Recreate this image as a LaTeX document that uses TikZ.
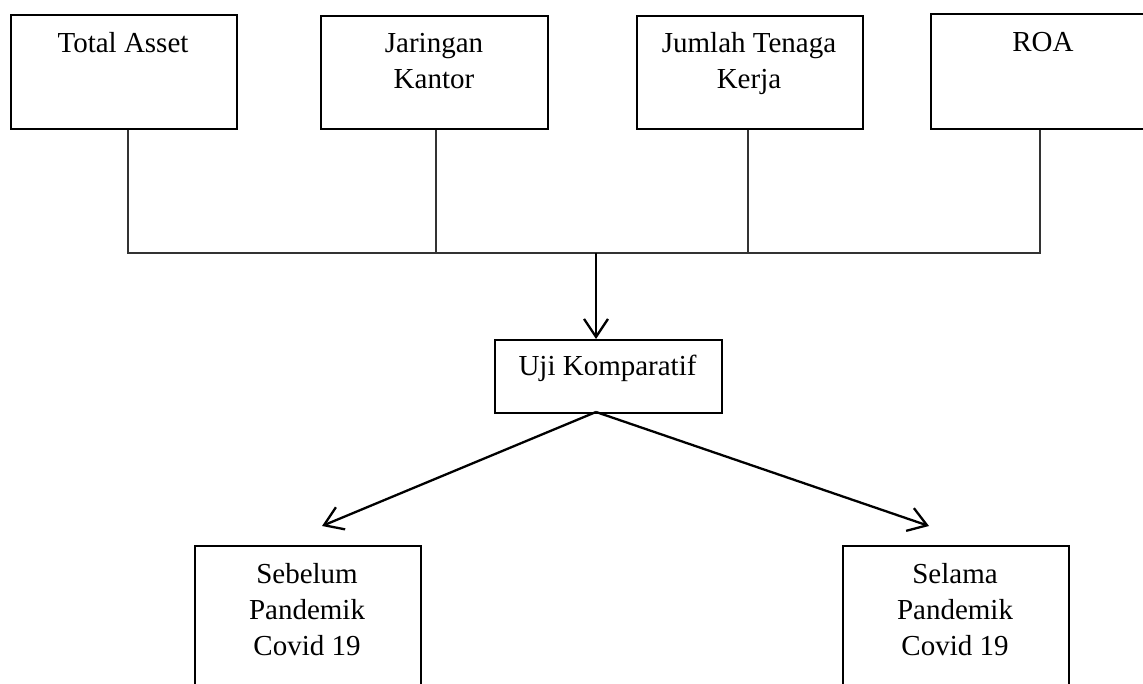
\documentclass[tikz,border=0pt]{standalone}
\usepackage{fontspec}
\setmainfont{Liberation Serif}
\usetikzlibrary{arrows.meta}
\begin{document}
\begin{tikzpicture}[x=1pt,y=-1pt,
  box/.style={draw=black,line width=2.3pt,inner sep=0pt,anchor=north west},
  txt/.style={inner sep=0pt,anchor=base,align=center,font=\fontsize{29}{36}\selectfont},
  conn/.style={draw=black!80,line width=1.4pt},
  arr/.style={draw=black,line width=2.3pt,-{Straight Barb[length=18pt,width=24pt,line width=2.3pt]}}]
\useasboundingbox (0,0) rectangle (1143,684);
\clip (0,0) rectangle (1143,684);
% boxes
\node[box,minimum width=226pt,minimum height=114pt] (ta) at (10,14) {};
\node[box,minimum width=227pt,minimum height=113pt] (jk) at (320,15) {};
\node[box,minimum width=226pt,minimum height=113pt] (jt) at (636,15) {};
\node[box,minimum width=226pt,minimum height=115pt] (roa) at (930,13) {};
\node[box,minimum width=227pt,minimum height=73pt] (uji) at (494,339) {};
\node[box,minimum width=226pt,minimum height=160pt] (seb) at (194,545) {};
\node[box,minimum width=226pt,minimum height=160pt] (sel) at (842,545) {};
% texts (anchor base = baseline of last line)
\node[txt] (ta-t) at (123,53) {Total Asset};
\node[txt] (jk-t) at (434,89) {Jaringan\\Kantor};
\node[txt] (jt-t) at (749,89) {Jumlah Tenaga\\Kerja};
\node[txt] (roa-t) at (1043,52) {ROA};
\node[txt] (uji-t) at (607.5,376) {Uji Komparatif};
\node[txt] (seb-t) at (307,655) {Sebelum\\Pandemik\\Covid 19};
\node[txt] (sel-t) at (955,655) {Selama\\Pandemik\\Covid 19};
% connectors
\coordinate (c1) at (128,253);
\coordinate (c2) at (436,253);
\coordinate (c3) at (748,253);
\coordinate (c4) at (1040,253);
\coordinate (cm) at (596,253);
\draw[conn] (ta.south -| c1) -- (c1) -- (c4) -- (roa.south -| c4);
\draw[conn] (jk.south -| c2) -- (c2);
\draw[conn] (jt.south -| c3) -- (c3);
\draw[arr] (cm) -- (uji.north -| cm);
\coordinate (ub) at (596,412);
\coordinate (t1) at (322,526);
\coordinate (t2) at (929,526);
\draw[arr] (ub) -- (t1);
\draw[arr] (ub) -- (t2);
\end{tikzpicture}
\end{document}
